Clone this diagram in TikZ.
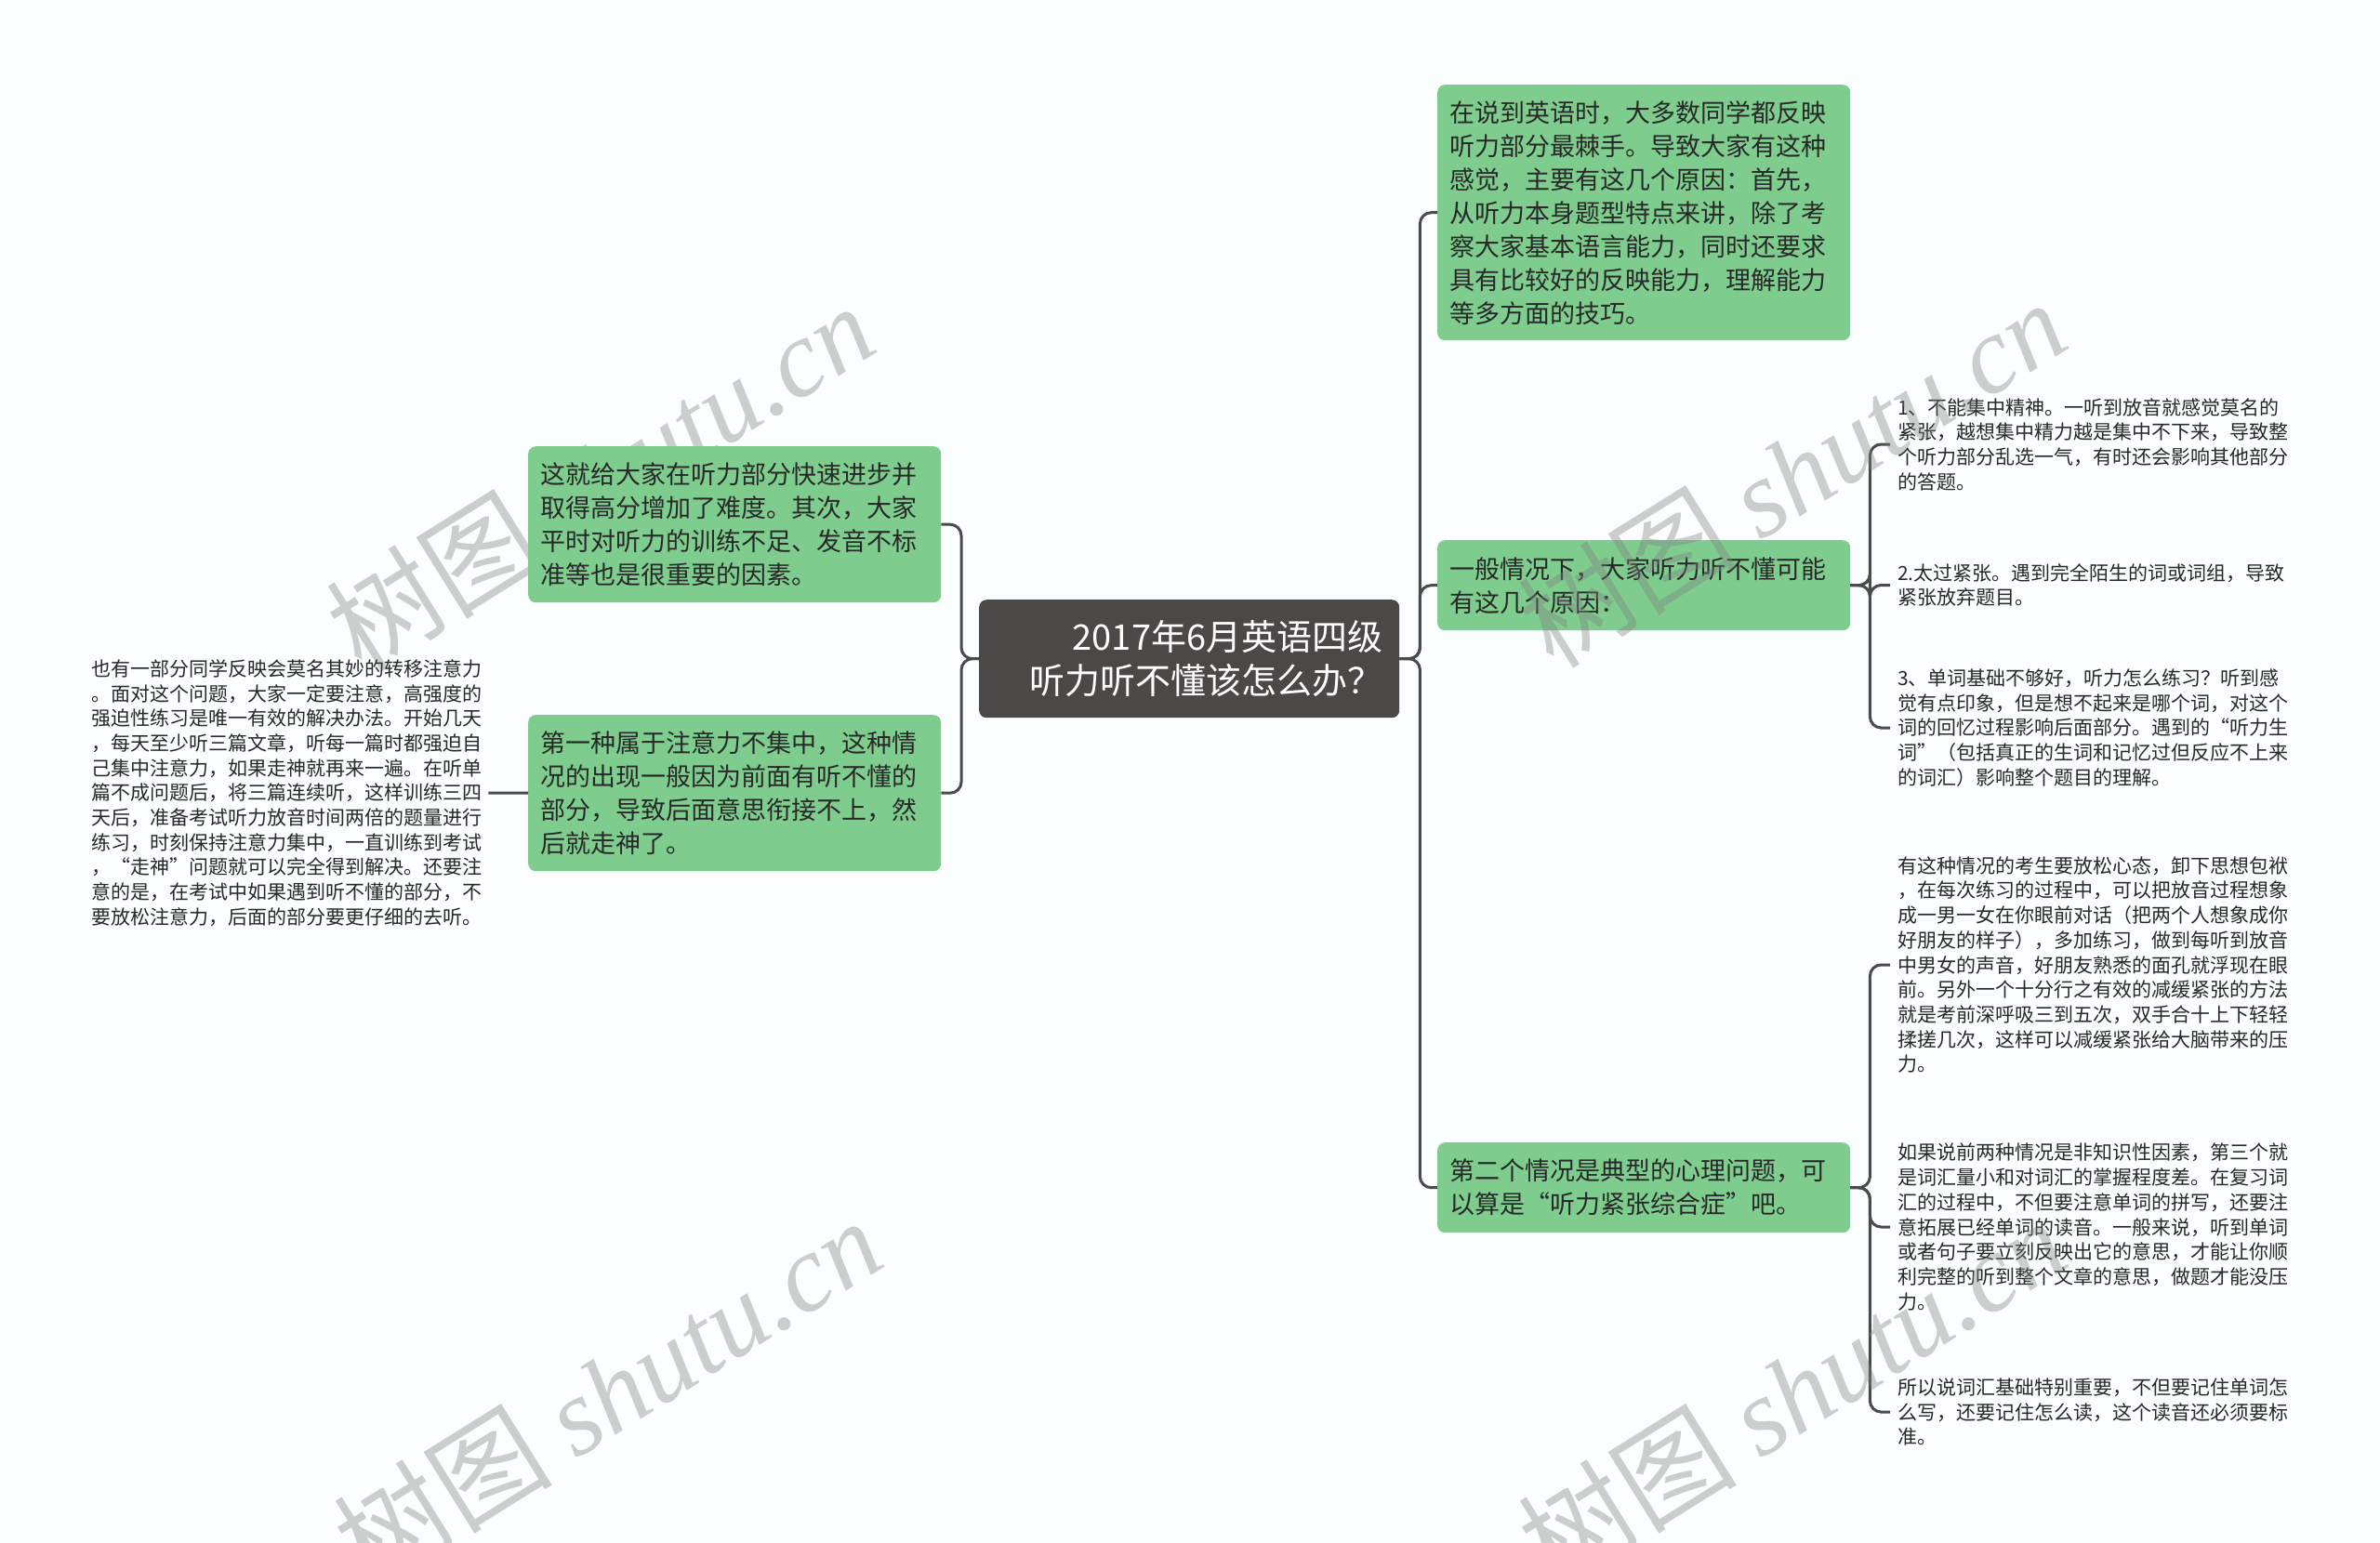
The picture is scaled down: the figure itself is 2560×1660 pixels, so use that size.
\documentclass[tikz,border=0pt]{standalone}
\usepackage{fontspec}
\setmainfont{Noto Sans CJK SC}
\newfontfamily\wmfont{Liberation Serif}
\usetikzlibrary{calc}
\definecolor{gfill}{RGB}{126,205,142}
\definecolor{cfill}{RGB}{76,72,72}
\definecolor{txt}{RGB}{40,40,40}
\definecolor{connc}{RGB}{75,75,75}
\definecolor{bgc}{RGB}{251,254,254}
\tikzset{
  gbox/.style={fill=gfill, rounded corners=8, text width=418, inner xsep=13, inner ysep=0,
    align=left, anchor=north west, font=\fontsize{27}{36}\selectfont, text=txt},
  cbox/.style={fill=cfill, rounded corners=8, text width=416, inner xsep=18, inner ysep=0,
    align=right, anchor=north west, font=\fontsize{38}{47}\selectfont, text=white},
  stext/.style={align=left, inner xsep=8, inner ysep=0, anchor=west,
    font=\fontsize{21}{26.7}\selectfont, text=txt},
  conn/.style={draw=connc, line width=3, rounded corners=12},
  wm/.style={font=\fontsize{118}{118}\selectfont, text=gray, text opacity=0.38, rotate=32}
}
\begin{document}
\begin{tikzpicture}[x=1pt,y=-1pt]
\fill[bgc] (0,0) rectangle (2560,1660);
\useasboundingbox (0,0) rectangle (2560,1660);

% watermarks behind the left nodes
\node[wm] (w1) at (645,513) {树图 {\wmfont\itshape shutu.cn}};
\node[wm] (w2) at (653,1497) {树图 {\wmfont\itshape shutu.cn}};

% root
\node[cbox, minimum width=452, minimum height=127] (root) at (1053,645) {2017年6月英语四级\\听力听不懂该怎么办？};

% left branch
\node[gbox, minimum height=168] (A) at (568,480) {这就给大家在听力部分快速进步并\\取得高分增加了难度。其次，大家\\平时对听力的训练不足、发音不标\\准等也是很重要的因素。};
\node[gbox, minimum height=168] (B) at (568,769) {第一种属于注意力不集中，这种情\\况的出现一般因为前面有听不懂的\\部分，导致后面意思衔接不上，然\\后就走神了。};
\node[stext, inner xsep=7] (far) at (91,853) {也有一部分同学反映会莫名其妙的转移注意力\\。面对这个问题，大家一定要注意，高强度的\\强迫性练习是唯一有效的解决办法。开始几天\\，每天至少听三篇文章，听每一篇时都强迫自\\己集中注意力，如果走神就再来一遍。在听单\\篇不成问题后，将三篇连续听，这样训练三四\\天后，准备考试听力放音时间两倍的题量进行\\练习，时刻保持注意力集中，一直训练到考试\\，“走神”问题就可以完全得到解决。还要注\\意的是，在考试中如果遇到听不懂的部分，不\\要放松注意力，后面的部分要更仔细的去听。};

% right branch
\node[gbox, minimum height=275] (R1) at (1546,91) {在说到英语时，大多数同学都反映\\听力部分最棘手。导致大家有这种\\感觉，主要有这几个原因：首先，\\从听力本身题型特点来讲，除了考\\察大家基本语言能力，同时还要求\\具有比较好的反映能力，理解能力\\等多方面的技巧。};
\node[gbox, minimum height=97] (R2) at (1546,581) {一般情况下，大家听力听不懂可能\\有这几个原因：};
\node[gbox, minimum height=97] (R3) at (1546,1229) {第二个情况是典型的心理问题，可\\以算是“听力紧张综合症”吧。};

\node[stext] (c1) at (2033,478) {1、不能集中精神。一听到放音就感觉莫名的\\紧张，越想集中精力越是集中不下来，导致整\\个听力部分乱选一气，有时还会影响其他部分\\的答题。};
\node[stext] (c2) at (2033,629.5) {2.太过紧张。遇到完全陌生的词或词组，导致\\紧张放弃题目。};
\node[stext] (c3) at (2033,783) {3、单词基础不够好，听力怎么练习？听到感\\觉有点印象，但是想不起来是哪个词，对这个\\词的回忆过程影响后面部分。遇到的“听力生\\词”（包括真正的生词和记忆过但反应不上来\\的词汇）影响整个题目的理解。};

\node[stext] (d1) at (2033,1038) {有这种情况的考生要放松心态，卸下思想包袱\\，在每次练习的过程中，可以把放音过程想象\\成一男一女在你眼前对话（把两个人想象成你\\好朋友的样子），多加练习，做到每听到放音\\中男女的声音，好朋友熟悉的面孔就浮现在眼\\前。另外一个十分行之有效的减缓紧张的方法\\就是考前深呼吸三到五次，双手合十上下轻轻\\揉搓几次，这样可以减缓紧张给大脑带来的压\\力。};
\node[stext] (d2) at (2033,1320) {如果说前两种情况是非知识性因素，第三个就\\是词汇量小和对词汇的掌握程度差。在复习词\\汇的过程中，不但要注意单词的拼写，还要注\\意拓展已经单词的读音。一般来说，听到单词\\或者句子要立刻反映出它的意思，才能让你顺\\利完整的听到整个文章的意思，做题才能没压\\力。};
\node[stext] (d3) at (2033,1519) {所以说词汇基础特别重要，不但要记住单词怎\\么写，还要记住怎么读，这个读音还必须要标\\准。};

% connectors
\draw[conn] (root.west) -- ++(-19,0) |- (A.east);
\draw[conn] (root.west) -- ++(-19,0) |- (B.east);
\draw[conn] (B.west) -- (far.east);
\draw[conn] (root.east) -- ++(22,0) |- (R1.west);
\draw[conn] (root.east) -- ++(22,0) |- (R2.west);
\draw[conn] (root.east) -- ++(22,0) |- (R3.west);
\draw[conn] (R2.east) -- ++(21,0) |- (c1.west);
\draw[conn] (R2.east) -- ++(21,0) |- (c2.west);
\draw[conn] (R2.east) -- ++(21,0) |- (c3.west);
\draw[conn] (R3.east) -- ++(21,0) |- (d1.west);
\draw[conn] (R3.east) -- ++(21,0) |- (d2.west);
\draw[conn] (R3.east) -- ++(21,0) |- (d3.west);

% watermarks over the right side
\node[wm] (w3) at (1927,509) {树图 {\wmfont\itshape shutu.cn}};
\node[wm] (w4) at (1927,1497) {树图 {\wmfont\itshape shutu.cn}};
\end{tikzpicture}
\end{document}
